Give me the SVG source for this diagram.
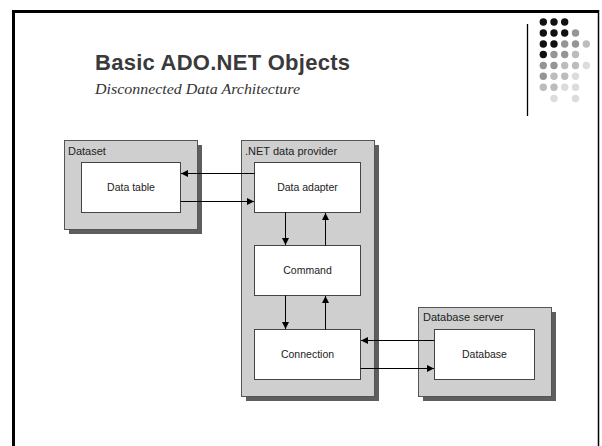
<svg xmlns="http://www.w3.org/2000/svg" width="602" height="446" viewBox="0 0 602 446">
  <style>
    .frame { stroke: #000; fill: none; }
    .title { font-family: "Liberation Sans", Arial, sans-serif; font-weight: bold; font-size: 22px; fill: #3a3a3a; }
    .subtitle { font-family: "Liberation Serif", "Times New Roman", serif; font-style: italic; font-size: 15.5px; fill: #333; }
    .shadow { fill: #5e5e5e; }
    .outer { fill: #cfcfcf; stroke: #555; stroke-width: 1; }
    .inner { fill: #fff; stroke: #444; stroke-width: 1; }
    .group-label { font-family: "Liberation Sans", Arial, sans-serif; font-size: 11px; fill: #222; }
    .node-label { font-family: "Liberation Sans", Arial, sans-serif; font-size: 10.5px; fill: #222; text-anchor: middle; }
    .conn { stroke: #000; stroke-width: 1; fill: none; marker-end: url(#arrow); }
  </style>
  <defs>
    <marker id="arrow" markerUnits="userSpaceOnUse" markerWidth="8" markerHeight="8" refX="7" refY="4" orient="auto">
      <path d="M0,0.5 L7,4 L0,7.5 z" fill="#000"/>
    </marker>
  </defs>

  <rect width="602" height="446" fill="#fff"/>

  <!-- slide frame -->
  <g id="frame">
    <line class="frame" x1="12" y1="11.5" x2="599" y2="11.5" stroke-width="3"/>
    <line class="frame" x1="13.5" y1="10" x2="13.5" y2="446" stroke-width="3"/>
    <line class="frame" x1="598.5" y1="10" x2="598.5" y2="446" stroke-width="1.5"/>
    <line class="frame" x1="527.5" y1="24" x2="527.5" y2="116" stroke-width="1.3"/>
  </g>

  <!-- decorative dot grid -->
  <g id="dots">
    <g fill="#111">
      <circle cx="543.3" cy="22" r="3.7"/><circle cx="554" cy="22" r="3.7"/><circle cx="564.7" cy="22" r="3.7"/>
      <circle cx="543.3" cy="33" r="3.7"/><circle cx="554" cy="33" r="3.7"/><circle cx="564.7" cy="33" r="3.7"/>
      <circle cx="543.3" cy="44" r="3.7"/><circle cx="554" cy="44" r="3.7"/>
      <circle cx="543.3" cy="54.5" r="3.7"/>
    </g>
    <g fill="#959595">
      <circle cx="575.5" cy="33" r="3.7"/>
      <circle cx="564.7" cy="44" r="3.7"/><circle cx="575.5" cy="44" r="3.7"/>
      <circle cx="554" cy="54.5" r="3.7"/><circle cx="564.7" cy="54.5" r="3.7"/>
      <circle cx="543.3" cy="65.5" r="3.7"/><circle cx="554" cy="65.5" r="3.7"/>
      <circle cx="543.3" cy="76.3" r="3.7"/>
    </g>
    <g fill="#bcbcbc">
      <circle cx="586.3" cy="44" r="3.7"/>
      <circle cx="575.5" cy="54.5" r="3.7"/>
      <circle cx="564.7" cy="65.5" r="3.7"/><circle cx="575.5" cy="65.5" r="3.7"/>
      <circle cx="554" cy="76.3" r="3.7"/><circle cx="564.7" cy="76.3" r="3.7"/>
      <circle cx="543.3" cy="87.3" r="3.7"/><circle cx="554" cy="87.3" r="3.7"/>
    </g>
    <g fill="#dcdcdc">
      <circle cx="586.3" cy="65.5" r="3.7"/>
      <circle cx="575.5" cy="76.3" r="3.7"/>
      <circle cx="564.7" cy="87.3" r="3.7"/><circle cx="575.5" cy="87.3" r="3.7"/>
      <circle cx="554" cy="98.5" r="3.7"/><circle cx="575.5" cy="98.5" r="3.7"/>
    </g>
  </g>

  <!-- heading -->
  <text class="title" x="95" y="70" textLength="255">Basic ADO.NET Objects</text>
  <text class="subtitle" x="95" y="94" textLength="205" lengthAdjust="spacingAndGlyphs">Disconnected Data Architecture</text>

  <!-- Dataset -->
  <g id="dataset">
    <rect class="shadow" x="69" y="145" width="133" height="89"/>
    <rect class="outer" x="64.5" y="140.5" width="133" height="89"/>
    <text class="group-label" x="68" y="155">Dataset</text>
    <g id="data-table">
      <rect class="inner" x="81.5" y="162.5" width="99" height="50"/>
      <text class="node-label" x="131" y="191">Data table</text>
    </g>
  </g>

  <!-- .NET data provider -->
  <g id="provider">
    <rect class="shadow" x="246" y="145" width="133" height="256"/>
    <rect class="outer" x="241.5" y="140.5" width="133" height="256"/>
    <text class="group-label" x="245" y="155">.NET data provider</text>
    <g id="data-adapter">
      <rect class="inner" x="254.5" y="162.5" width="106" height="50"/>
      <text class="node-label" x="307.5" y="191">Data adapter</text>
    </g>
    <g id="command">
      <rect class="inner" x="254.5" y="245.5" width="106" height="50"/>
      <text class="node-label" x="307.5" y="274">Command</text>
    </g>
    <g id="connection">
      <rect class="inner" x="254.5" y="329.5" width="106" height="50"/>
      <text class="node-label" x="307.5" y="358">Connection</text>
    </g>
  </g>

  <!-- Database server -->
  <g id="db-server">
    <rect class="shadow" x="423" y="312" width="133" height="89"/>
    <rect class="outer" x="418.5" y="307.5" width="133" height="89"/>
    <text class="group-label" x="423" y="321">Database server</text>
    <g id="database">
      <rect class="inner" x="434.5" y="329.5" width="100" height="50"/>
      <text class="node-label" x="484.5" y="358">Database</text>
    </g>
  </g>

  <!-- connectors -->
  <g id="connectors">
    <line class="conn" x1="254.5" y1="173.5" x2="181" y2="173.5"/>
    <line class="conn" x1="180.5" y1="201.5" x2="254" y2="201.5"/>
    <line class="conn" x1="285.5" y1="212.5" x2="285.5" y2="245"/>
    <line class="conn" x1="325.5" y1="245.5" x2="325.5" y2="213"/>
    <line class="conn" x1="285.5" y1="295.5" x2="285.5" y2="329"/>
    <line class="conn" x1="325.5" y1="329.5" x2="325.5" y2="296"/>
    <line class="conn" x1="434.5" y1="340.5" x2="361" y2="340.5"/>
    <line class="conn" x1="360.5" y1="368.5" x2="434" y2="368.5"/>
  </g>
</svg>
